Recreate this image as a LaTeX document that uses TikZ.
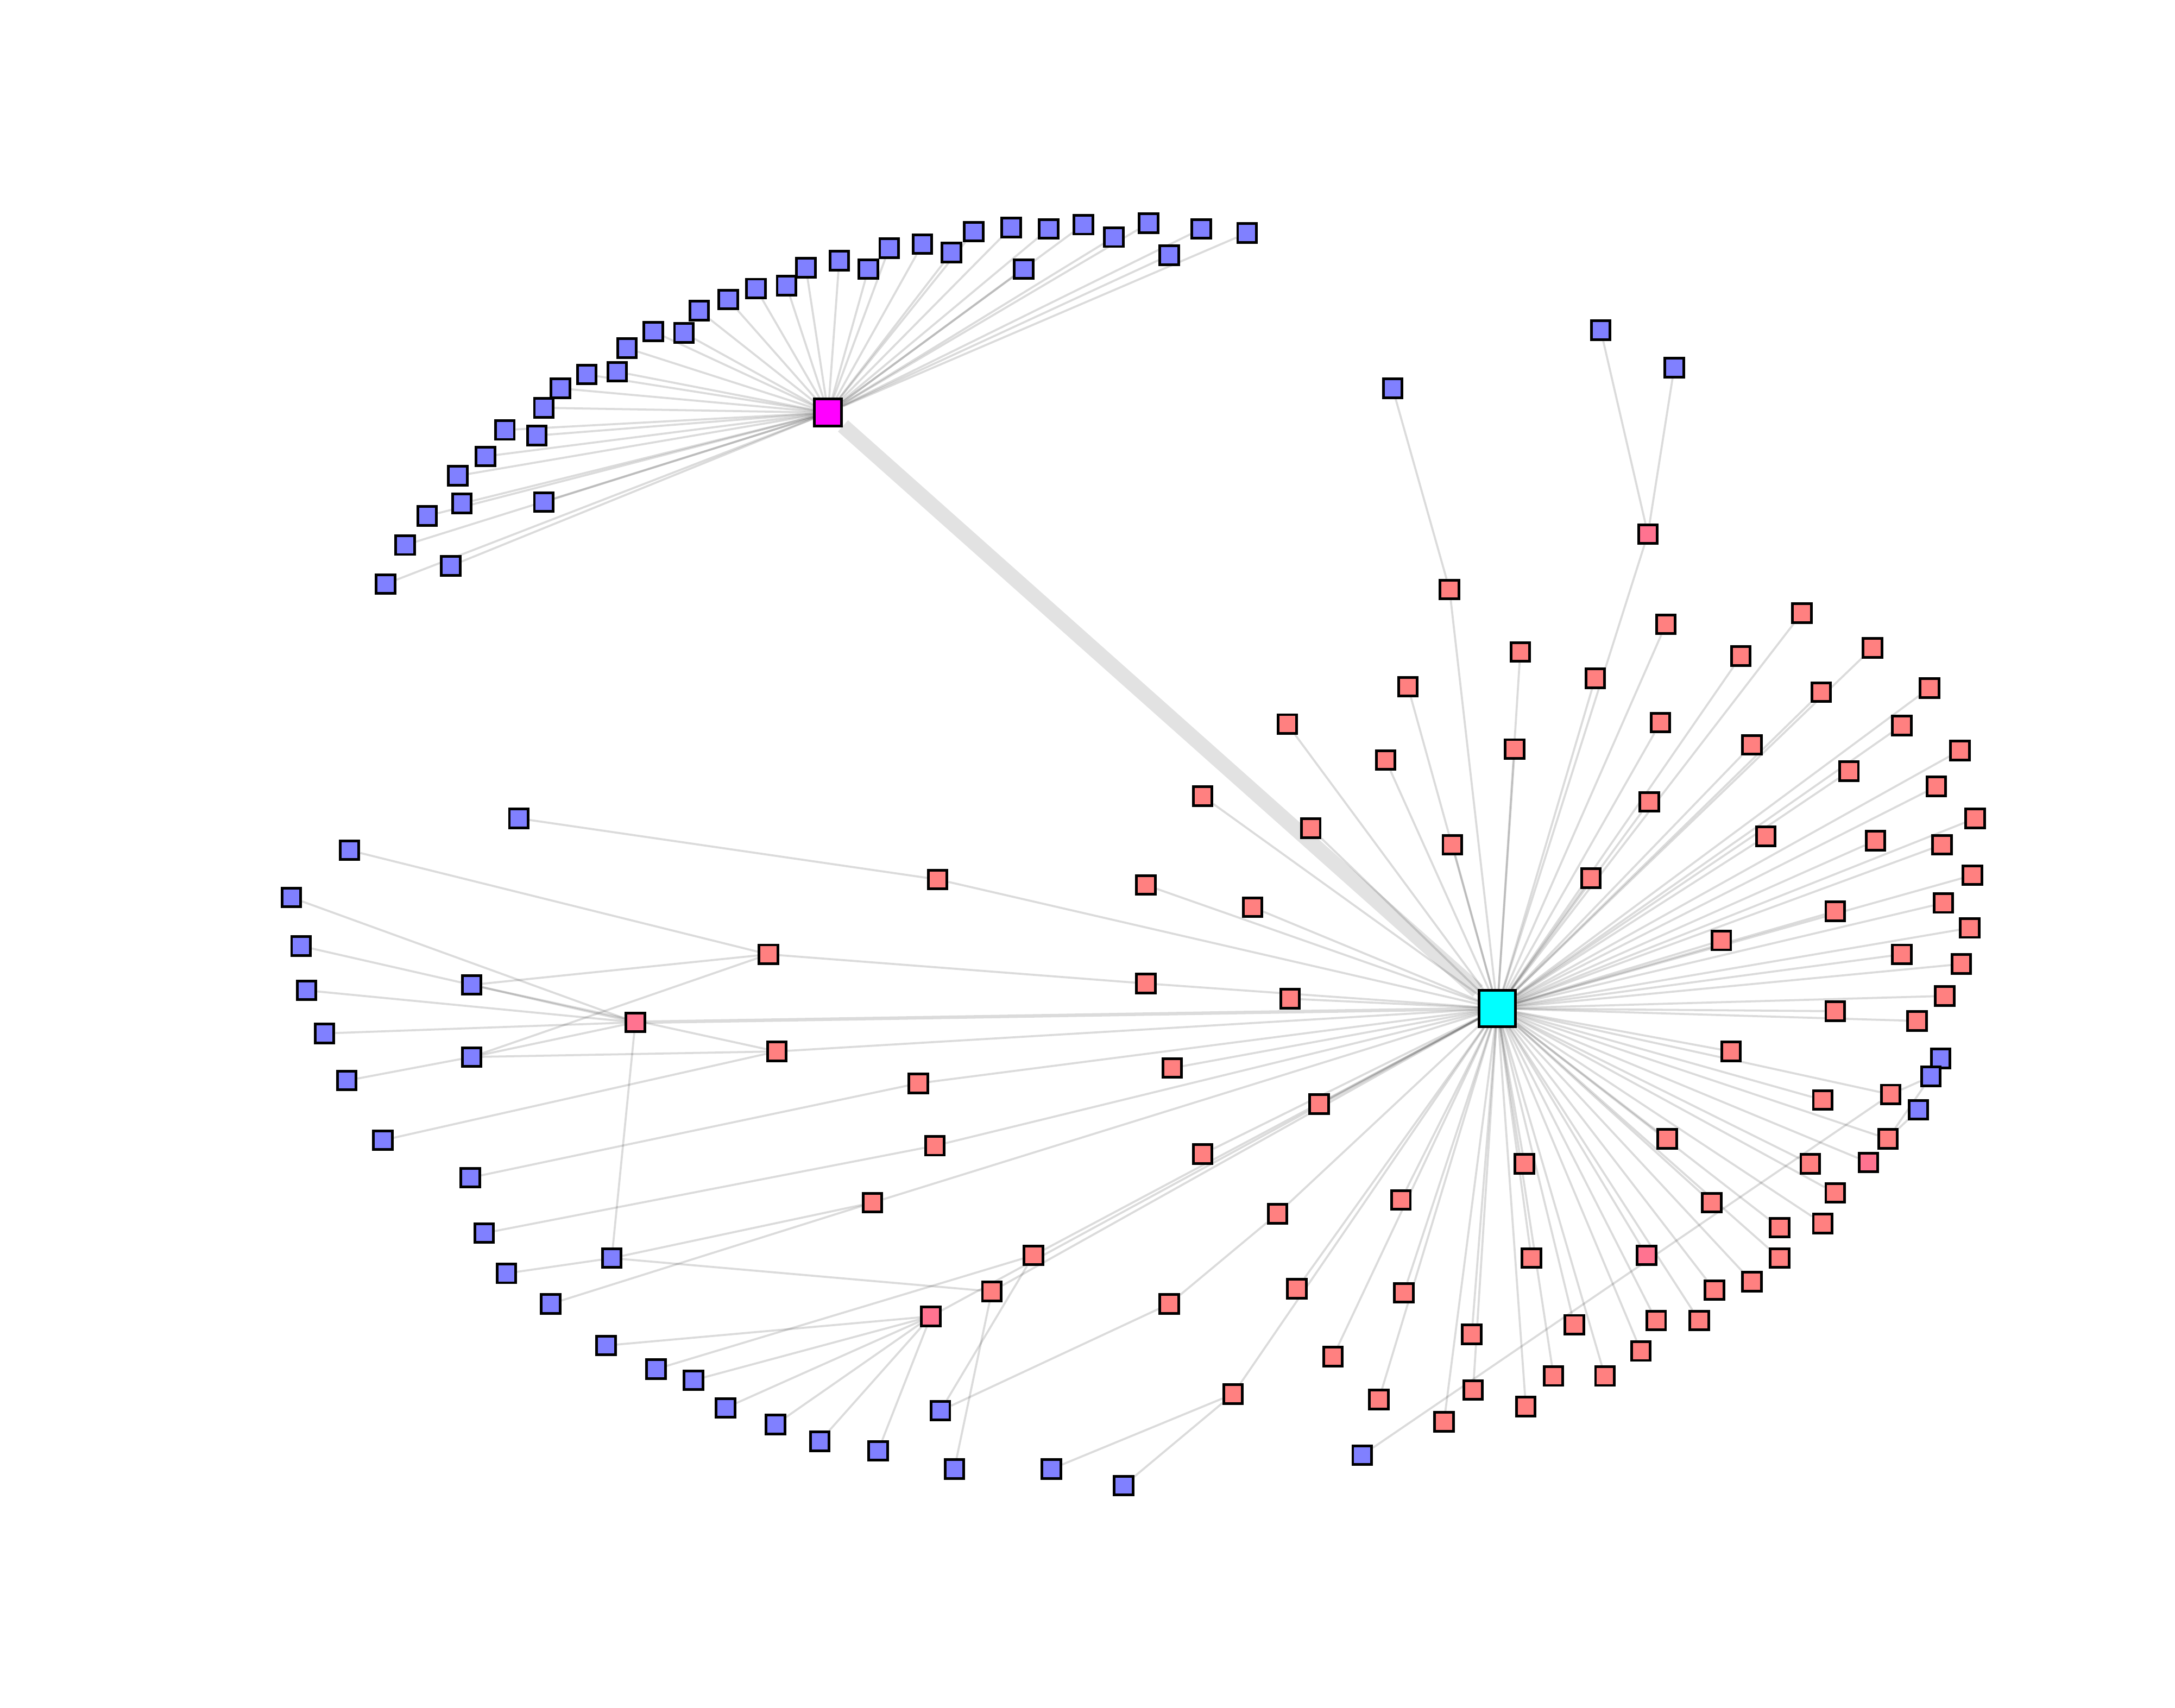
\documentclass[tikz,border=0pt]{standalone}
\pgfdeclarelayer{edges}
\pgfsetlayers{edges,main}
\definecolor{bluenode}{HTML}{8080FF}
\definecolor{rednode}{HTML}{FF8080}
\definecolor{pinknode}{HTML}{FF7390}
\definecolor{hubcyan}{HTML}{00FFFF}
\definecolor{hubmag}{HTML}{FF00FF}
\tikzset{
  nd/.style={draw=black, line width=0.55pt, rectangle, inner sep=0pt, minimum size=0.135cm},
  bn/.style={nd, fill=bluenode},
  rn/.style={nd, fill=rednode},
  pn/.style={nd, fill=pinknode},
  edge/.style={draw=black, draw opacity=0.14, line width=0.42pt},
  wideedge/.style={draw=black, draw opacity=0.14, line width=0.7pt},
  bigedge/.style={draw=black, draw opacity=0.115, line width=3.1pt},
}
\begin{document}
\begin{tikzpicture}[x=0.01cm, y=-0.01cm]
\useasboundingbox (0,0) rectangle (1568,1231);
% hubs
\node[nd, fill=hubcyan, minimum size=0.262cm] (C) at (1079.5,727) {};
\node[nd, fill=hubmag, minimum size=0.195cm] (M) at (597,297.5) {};
% blue nodes around magenta hub
\foreach \n/\x/\y in {m1/278/421, m2/325/408, m3/292/393, m4/308/372, m5/333/363, m6/392/362,
  m7/330/343, m8/350/329, m9/364/310, m10/387/314, m11/392/294, m12/404/280, m13/423/270,
  m14/445/268, m15/452/251, m16/471/239, m17/493/240, m18/504/224, m19/525/216, m20/545/208,
  m21/567/206, m22/581/193, m23/605/188, m24/626/194, m25/641/179, m26/665/176, m27/686/182,
  m28/702/167, m29/729/164, m30/738/194, m31/756/165, m32/781/162, m33/803/171, m34/828/161,
  m35/843/184, m36/866/165, m37/899/168}
  \node[bn] (\n) at (\x,\y) {};
% other blue nodes
\foreach \n/\x/\y in {t1/1004/280, t2/1154/238, t3/1207/265,
  b1/374/590, b2/252/613, b3/210/647, b4/217/682, b5/221/714, b6/340/710, b7/234/745,
  b8/340/762, b9/250/779, b10/276/822, b11/339/849, b12/349/889, b13/441/907, b14/365/918,
  b15/397/940, b16/437/970, b17/473/987, b18/500/995, b19/523/1015, b20/559/1027,
  b21/591/1039, b22/633/1046, b23/678/1017, b24/688/1059, b25/758/1059, b26/810/1071,
  b27/982/1049, b28/1399/763, b29/1392/776, b30/1383/800}
  \node[bn] (\n) at (\x,\y) {};
% red nodes joined to the cyan hub
\foreach \n/\x/\y in {h1/1045/425, h3/1096/470, h4/1201/450, h5/1150/489,
  h6/1015/495, h7/999/548, h8/1299/442, h9/1255/473, h10/1350/467, h11/1313/499, h12/1391/496,
  h13/1197/521, h14/1092/540, h15/1371/523, h16/1263/537, h17/1413/541, h18/1333/556,
  h19/1189/578, h20/1396/567, h21/1424/590, h22/1047/609, h23/1273/603, h24/1352/606,
  h25/1400/609, h26/1147/633, h27/1422/631, h28/1401/651, h29/1323/657, h30/1420/669,
  h31/1241/678, h32/1371/688, h33/1414/695, h34/1402/718, h35/1323/729, h36/1382/736,
  h37/928/522, h38/867/574, h39/945/597, h40/826/638, h41/903/654, h42/826/709, h43/930/720,
  h44/845/770, h45/867/832, h46/951/796, h47/921/875, h48/935/929, h49/889/1005, h50/1010/865,
  h51/1012/932, h52/961/978, h53/994/1009, h54/1061/962, h55/1062/1002, h56/1041/1025,
  h57/1099/839, h58/1104/907, h59/1100/1014, h60/1248/758, h61/1314/793, h62/1363/789,
  h63/1361/821, h65/1305/839, h66/1323/860, h67/1314/882, h68/1202/821,
  h69/1234/867, h70/1283/885, h71/1283/907, h72/1263/924, h73/1236/930,
  h75/1225/952, h76/1194/952, h77/1183/974, h78/1135/955, h79/1157/992, h80/1120/992,
  a1/676/634, a4/560/758, a5/662/781, a6/674/826, a7/629/867, a8/745/905, a9/715/931}
  \node[rn] (\n) at (\x,\y) {};
\node[rn] (a2) at (554,688) {};
\node[rn] (d1) at (843,940) {};
% pink nodes
\foreach \n/\x/\y in {h2/1188/385, h64/1347/838, h74/1187/905, a3/458/737, a10/671/949}
  \node[pn] (\n) at (\x,\y) {};
% edges
\begin{pgfonlayer}{edges}
\draw[bigedge] (M) -- (C);
\foreach \i in {1,...,37} \draw[edge] (M) -- (m\i);
\foreach \i in {1,...,80} \draw[edge] (C) -- (h\i);
\foreach \n in {a1,a4,a5,a6,a7,a8,a9,a10} \draw[edge] (C) -- (\n);
\draw[wideedge] (C) -- (a3);
\foreach \a/\b in {t1/h1, t2/h2, t3/h2,
  b1/a1, b2/a2, b3/a3, b4/b6, b5/a3, b7/a3, b9/b8,
  b6/a2, b6/a3, b6/a4, b8/a2, b8/a3, b8/a4,
  b10/a4, b11/a5, b12/a6, b14/b13, b13/a3, b13/a7, b13/a9,
  b15/a7, b16/a10, b17/a8, b18/a10, b19/a10, b20/a10, b21/a10, b22/a10,
  b23/a8, b23/d1, d1/h47, b24/a9, b25/h49, b26/h49,
  a2/h42, b27/h62, h62/b29, h63/b29, h63/b30}
  \draw[edge] (\a) -- (\b);
\end{pgfonlayer}
\end{tikzpicture}
\end{document}
